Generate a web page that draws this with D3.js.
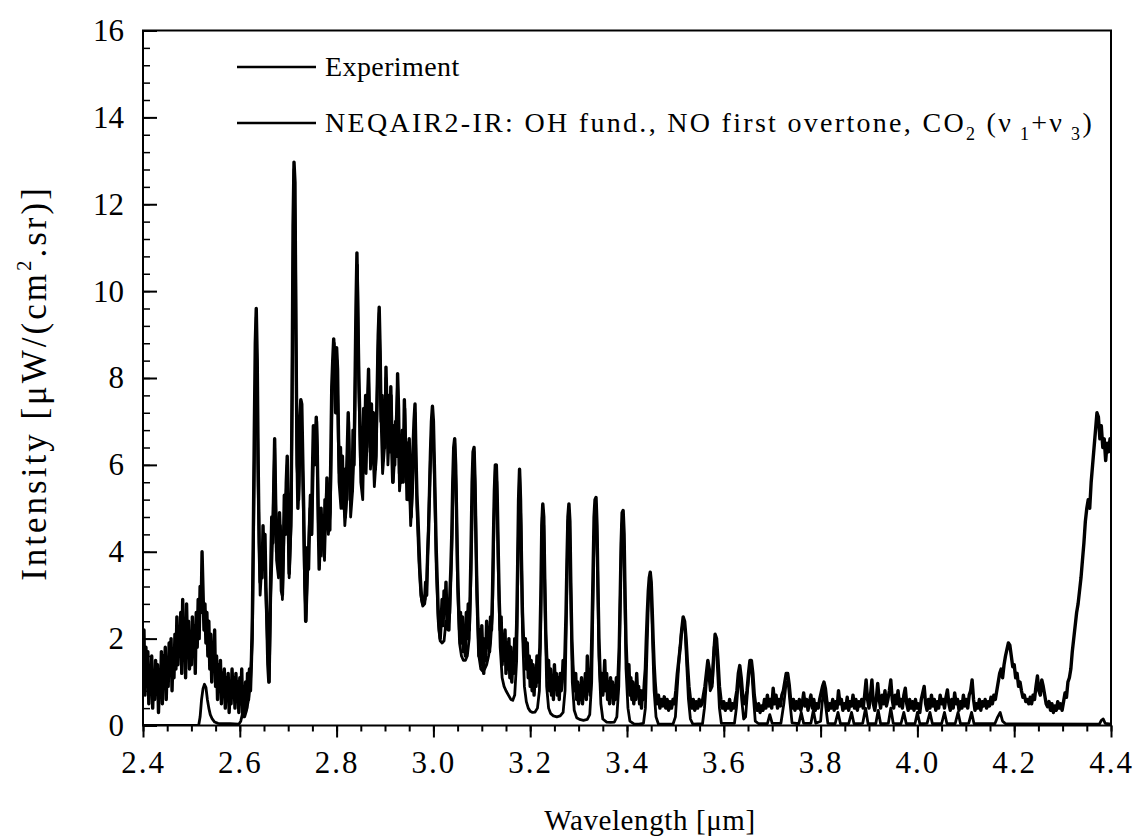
<!DOCTYPE html>
<html>
<head>
<meta charset="utf-8">
<script src="https://cdn.jsdelivr.net/npm/d3@7"></script>
<style>
  body { margin: 0; background: #fff; }
  text { font-family: "Liberation Serif", "Times New Roman", serif; fill: #000; }
</style>
</head>
<body>
<script>
var w = 1137;
var h = 838;

// plot box in pixels
var box = { left: 143, right: 1111, top: 30.5, bottom: 725.5 };

var xTicks = [2.4, 2.6, 2.8, 3.0, 3.2, 3.4, 3.6, 3.8, 4.0, 4.2, 4.4];
var yTicks = [0, 2, 4, 6, 8, 10, 12, 14, 16];

var legendLabels = ["Experiment", "NEQAIR2-IR"];

// measured spectrum [wavelength um, intensity]
var experiment = [
  [2.400,0.9],[2.402,2.2],[2.404,0.7],[2.406,1.8],[2.408,1.1],[2.410,1.7],[2.412,0.5],[2.414,1.3],[2.416,0.8],[2.418,1.6],
  [2.420,0.4],[2.422,1.2],[2.424,0.6],[2.426,1.5],[2.428,0.9],[2.430,1.4],[2.432,0.3],[2.434,1.1],[2.436,0.7],[2.438,1.7],
  [2.440,0.5],[2.442,1.6],[2.444,1.0],[2.446,1.8],[2.448,0.6],[2.450,1.5],[2.452,0.9],[2.454,1.9],[2.456,1.2],[2.458,2.0],
  [2.460,0.8],[2.462,1.7],[2.464,1.1],[2.466,2.1],[2.468,1.3],[2.470,2.5],[2.472,1.4],[2.474,2.2],[2.476,1.6],[2.478,2.6],
  [2.480,1.2],[2.482,2.9],[2.484,1.5],[2.486,2.3],[2.488,1.1],[2.490,2.8],[2.492,1.7],[2.494,2.4],[2.496,1.3],[2.498,2.0],
  [2.500,1.4],[2.502,2.5],[2.504,1.6],[2.506,2.3],[2.508,1.2],[2.510,2.6],[2.512,1.8],[2.514,2.9],[2.516,2.0],[2.518,3.2],
  [2.520,2.6],[2.522,4.0],[2.524,3.1],[2.526,2.2],[2.528,2.8],[2.530,1.9],[2.532,2.6],[2.534,1.6],[2.536,2.4],[2.538,1.3],
  [2.540,2.1],[2.542,1.0],[2.544,1.9],[2.546,1.4],[2.548,2.2],[2.550,0.9],[2.552,1.6],[2.554,0.6],[2.556,1.4],[2.558,0.8],
  [2.560,1.5],[2.562,0.5],[2.564,1.2],[2.566,0.7],[2.568,1.3],[2.570,0.4],[2.572,1.1],[2.574,0.6],[2.576,1.2],[2.578,0.3],
  [2.580,1.0],[2.582,0.5],[2.584,1.3],[2.586,0.7],[2.588,1.1],[2.590,0.4],[2.592,1.2],[2.594,0.6],[2.596,1.0],[2.598,0.3],
  [2.600,1.1],[2.602,0.5],[2.604,1.3],[2.606,0.2],[2.608,0.9],[2.610,0.3],[2.612,1.0],[2.614,0.4],[2.616,1.2],[2.618,0.6],
  [2.620,1.3],[2.622,0.8],[2.624,1.5],[2.626,2.5],[2.628,4.5],[2.630,6.8],[2.632,8.8],[2.634,9.6],[2.636,8.4],[2.638,6.0],
  [2.640,4.2],[2.642,3.3],[2.644,4.0],[2.646,3.4],[2.648,4.6],[2.650,3.6],[2.652,4.4],[2.654,3.2],[2.656,2.4],[2.658,1.4],
  [2.660,1.0],[2.662,2.2],[2.664,3.6],[2.666,4.8],[2.668,4.2],[2.670,5.4],[2.672,6.6],[2.674,5.2],[2.676,4.0],[2.678,4.7],
  [2.680,3.6],[2.682,4.9],[2.684,4.2],[2.686,3.1],[2.688,3.0],[2.690,4.0],[2.692,5.3],[2.694,4.4],[2.696,5.6],[2.698,6.2],
  [2.700,4.8],[2.702,3.5],[2.704,4.2],[2.706,5.0],[2.708,7.5],[2.710,11.5],[2.712,12.97],[2.714,12.5],[2.716,9.0],[2.718,6.5],
  [2.720,5.0],[2.722,5.6],[2.724,7.0],[2.726,7.5],[2.728,7.4],[2.730,6.2],[2.732,5.0],[2.734,3.6],[2.736,2.4],[2.738,3.2],
  [2.740,4.1],[2.742,3.6],[2.744,4.6],[2.746,5.3],[2.748,4.4],[2.750,5.8],[2.752,6.9],[2.754,6.0],[2.756,6.5],[2.758,7.1],
  [2.760,6.4],[2.762,4.8],[2.764,3.6],[2.766,4.4],[2.768,5.0],[2.770,4.2],[2.772,4.7],[2.774,3.9],[2.776,5.2],[2.778,4.6],
  [2.780,5.7],[2.782,4.7],[2.784,5.3],[2.786,4.5],[2.788,6.2],[2.790,7.8],[2.792,8.4],[2.794,8.9],[2.796,8.3],[2.798,7.2],
  [2.800,8.7],[2.802,8.2],[2.804,6.6],[2.806,5.8],[2.808,6.4],[2.810,5.4],[2.812,6.2],[2.814,5.0],[2.816,5.9],[2.818,4.8],
  [2.820,5.6],[2.822,6.3],[2.824,7.2],[2.826,6.0],[2.828,5.2],[2.830,6.1],[2.832,5.4],[2.834,6.8],[2.836,6.0],[2.838,7.8],
  [2.840,9.6],[2.842,10.88],[2.844,9.4],[2.846,8.0],[2.848,7.1],[2.850,6.0],[2.852,6.7],[2.854,5.8],[2.856,7.3],[2.858,6.4],
  [2.860,7.6],[2.862,6.3],[2.864,7.4],[2.866,8.2],[2.868,7.0],[2.870,6.4],[2.872,7.4],[2.874,6.1],[2.876,7.2],[2.878,6.0],
  [2.880,5.9],[2.882,6.8],[2.884,7.8],[2.886,9.0],[2.888,9.63],[2.890,8.6],[2.892,7.0],[2.894,7.6],[2.896,6.1],[2.898,7.0],
  [2.900,6.4],[2.902,8.25],[2.904,7.3],[2.906,6.6],[2.908,7.6],[2.910,6.3],[2.912,7.8],[2.914,6.4],[2.916,5.6],[2.918,6.9],
  [2.920,6.0],[2.922,7.0],[2.924,6.2],[2.926,8.1],[2.928,7.3],[2.930,5.8],[2.932,6.6],[2.934,5.6],[2.936,6.8],[2.938,6.0],
  [2.940,7.5],[2.942,6.6],[2.944,5.6],[2.946,6.5],[2.948,5.2],[2.950,6.6],[2.952,5.4],[2.954,4.8],[2.956,5.6],[2.958,6.4],
  [2.960,7.0],[2.962,7.4],[2.964,6.2],[2.966,5.3],[2.968,4.8],[2.970,4.2],[2.972,3.6],[2.974,3.2],[2.976,2.9],[2.978,2.8],
  [2.980,2.9],[2.982,2.9],[2.984,3.3],[2.986,3.0],[2.988,3.9],[2.990,4.5],[2.992,5.4],[2.994,6.3],[2.996,7.0],[2.998,7.35],
  [3.000,7.0],[3.002,6.0],[3.004,5.0],[3.006,4.0],[3.008,3.3],[3.010,2.6],[3.012,2.2],[3.014,2.0],[3.016,2.4],[3.018,2.9],
  [3.020,2.3],[3.022,3.1],[3.024,2.6],[3.026,3.3],[3.028,2.4],[3.030,2.9],[3.032,2.2],[3.034,3.0],[3.036,3.6],[3.038,4.4],
  [3.040,5.6],[3.042,6.4],[3.044,6.6],[3.046,6.0],[3.048,4.8],[3.050,3.6],[3.052,2.8],[3.054,2.2],[3.056,2.6],[3.058,1.9],
  [3.060,2.5],[3.062,1.7],[3.064,2.3],[3.066,1.6],[3.068,2.6],[3.070,2.0],[3.072,2.8],[3.074,2.2],[3.076,3.0],[3.078,4.2],
  [3.080,5.6],[3.082,6.3],[3.084,6.4],[3.086,5.6],[3.088,4.2],[3.090,3.1],[3.092,2.3],[3.094,1.6],[3.096,2.2],[3.098,1.4],
  [3.100,2.3],[3.102,1.6],[3.104,1.2],[3.106,2.0],[3.108,1.5],[3.110,2.4],[3.112,1.8],[3.114,2.2],[3.116,1.7],[3.118,2.5],
  [3.120,2.2],[3.122,3.0],[3.124,4.3],[3.126,5.4],[3.128,6.0],[3.130,6.0],[3.132,5.2],[3.134,4.0],[3.136,2.9],[3.138,2.2],
  [3.140,2.5],[3.142,1.4],[3.144,2.1],[3.146,1.5],[3.148,2.2],[3.150,1.2],[3.152,1.9],[3.154,1.3],[3.156,2.0],[3.158,1.1],
  [3.160,1.8],[3.162,1.0],[3.164,1.6],[3.166,1.2],[3.168,2.0],[3.170,1.5],[3.172,2.3],[3.174,3.6],[3.176,5.2],[3.178,5.9],
  [3.180,5.2],[3.182,3.8],[3.184,2.6],[3.186,2.0],[3.188,1.6],[3.190,2.0],[3.192,1.3],[3.194,1.9],[3.196,1.1],[3.198,1.6],
  [3.200,0.9],[3.202,1.5],[3.204,0.8],[3.206,1.4],[3.208,0.7],[3.210,1.3],[3.212,0.9],[3.214,1.6],[3.216,1.0],[3.218,1.4],
  [3.220,1.8],[3.222,3.0],[3.224,4.6],[3.226,5.1],[3.228,4.8],[3.230,3.4],[3.232,2.2],[3.234,1.6],[3.236,1.1],[3.238,1.5],
  [3.240,0.8],[3.242,1.3],[3.244,0.7],[3.246,1.1],[3.248,0.6],[3.250,1.4],[3.252,0.9],[3.254,1.2],[3.256,0.7],[3.258,1.1],
  [3.260,0.6],[3.262,1.2],[3.264,0.8],[3.266,1.0],[3.268,1.5],[3.270,1.1],[3.272,1.7],[3.274,2.6],[3.276,3.8],[3.278,4.8],
  [3.280,5.1],[3.282,4.7],[3.284,3.2],[3.286,2.0],[3.288,1.4],[3.290,1.0],[3.292,0.8],[3.294,1.2],[3.296,0.6],[3.298,1.0],
  [3.300,0.5],[3.302,0.9],[3.304,0.6],[3.306,1.1],[3.308,0.5],[3.310,0.9],[3.312,0.7],[3.314,1.2],[3.316,0.6],[3.318,1.6],
  [3.320,0.8],[3.322,1.1],[3.324,0.7],[3.326,1.4],[3.328,2.4],[3.330,3.6],[3.332,4.8],[3.334,5.2],[3.336,5.25],[3.338,4.6],
  [3.340,3.2],[3.342,2.0],[3.344,1.3],[3.346,0.9],[3.348,1.2],[3.350,0.7],[3.352,1.0],[3.354,1.5],[3.356,0.8],[3.358,1.2],
  [3.360,0.6],[3.362,1.0],[3.364,0.5],[3.366,1.1],[3.368,0.7],[3.370,1.0],[3.372,0.5],[3.374,0.9],[3.376,0.6],[3.378,1.1],
  [3.380,0.7],[3.382,1.2],[3.384,1.8],[3.386,3.0],[3.388,4.2],[3.390,4.9],[3.392,4.95],[3.394,4.4],[3.396,3.0],[3.398,1.9],
  [3.400,1.3],[3.402,1.0],[3.404,1.4],[3.406,0.7],[3.408,1.1],[3.410,0.6],[3.412,1.0],[3.414,0.5],[3.416,0.9],[3.418,0.6],
  [3.420,1.2],[3.422,0.7],[3.424,0.9],[3.426,0.5],[3.428,0.8],[3.430,0.4],[3.432,0.8],[3.434,0.6],[3.436,1.0],[3.438,1.3],
  [3.440,2.0],[3.442,2.6],[3.444,3.1],[3.446,3.4],[3.448,3.53],[3.450,3.3],[3.452,2.7],[3.454,2.0],[3.456,1.4],[3.458,1.0],
  [3.460,0.7],[3.462,0.5],[3.465,0.7],[3.468,0.4],[3.471,0.6],[3.474,0.45],[3.477,0.66],[3.480,0.4],[3.483,0.6],[3.486,0.35],
  [3.489,0.55],[3.492,0.4],[3.495,0.6],[3.498,0.5],[3.501,0.8],[3.504,1.2],[3.507,1.5],[3.510,1.8],[3.513,2.2],[3.516,2.5],
  [3.519,2.4],[3.522,2.0],[3.525,1.4],[3.528,0.9],[3.531,0.6],[3.534,0.4],[3.537,0.6],[3.540,0.35],[3.543,0.55],[3.546,0.4],
  [3.549,0.6],[3.552,0.45],[3.555,0.5],[3.558,0.7],[3.561,0.9],[3.564,1.2],[3.567,1.5],[3.570,1.3],[3.573,0.9],[3.576,1.0],
  [3.579,1.6],[3.582,2.1],[3.585,2.0],[3.588,1.5],[3.591,0.9],[3.594,0.6],[3.597,0.4],[3.600,0.55],[3.603,0.35],[3.606,0.5],
  [3.609,0.4],[3.612,0.6],[3.615,0.35],[3.618,0.5],[3.621,0.4],[3.624,0.6],[3.627,0.8],[3.630,1.2],[3.633,1.38],[3.636,1.1],
  [3.639,0.7],[3.642,0.5],[3.645,0.6],[3.648,0.8],[3.651,1.2],[3.654,1.5],[3.657,1.5],[3.660,1.2],[3.663,0.7],[3.666,0.45],
  [3.669,0.35],[3.672,0.5],[3.675,0.3],[3.678,0.45],[3.681,0.35],[3.684,0.6],[3.687,0.4],[3.690,0.7],[3.693,0.45],[3.696,0.6],
  [3.699,0.4],[3.702,0.86],[3.705,0.5],[3.708,0.7],[3.711,0.4],[3.714,0.6],[3.717,0.45],[3.720,0.7],[3.723,0.8],[3.726,1.0],
  [3.729,1.2],[3.732,1.2],[3.735,0.95],[3.738,0.6],[3.741,0.4],[3.744,0.6],[3.747,0.35],[3.750,0.55],[3.753,0.4],[3.756,0.6],
  [3.759,0.35],[3.762,0.5],[3.765,0.75],[3.768,0.45],[3.771,0.6],[3.774,0.35],[3.777,0.55],[3.780,0.7],[3.783,0.4],[3.786,0.6],
  [3.789,0.35],[3.792,0.5],[3.795,0.4],[3.798,0.6],[3.801,0.75],[3.804,0.9],[3.807,1.0],[3.810,0.85],[3.813,0.55],[3.816,0.35],
  [3.819,0.5],[3.822,0.4],[3.825,0.6],[3.828,0.35],[3.831,0.55],[3.834,0.4],[3.837,0.8],[3.840,0.5],[3.843,0.6],[3.846,0.35],
  [3.849,0.5],[3.852,0.4],[3.855,0.65],[3.858,0.35],[3.861,0.55],[3.864,0.45],[3.867,0.7],[3.870,0.4],[3.873,0.6],[3.876,0.35],
  [3.879,0.55],[3.882,0.45],[3.885,0.6],[3.888,0.4],[3.891,0.7],[3.894,1.05],[3.897,0.6],[3.900,0.4],[3.903,0.7],[3.906,1.05],
  [3.909,0.5],[3.912,0.35],[3.915,0.6],[3.918,0.97],[3.921,0.6],[3.924,0.4],[3.927,0.7],[3.930,0.5],[3.933,0.8],[3.936,0.45],
  [3.939,0.6],[3.942,0.8],[3.945,1.05],[3.948,0.6],[3.951,0.4],[3.954,0.7],[3.957,0.5],[3.960,0.8],[3.963,0.45],[3.966,0.6],
  [3.969,0.4],[3.972,0.7],[3.975,0.86],[3.978,0.5],[3.981,0.35],[3.984,0.6],[3.987,0.4],[3.990,0.55],[3.993,0.35],[3.996,0.6],
  [3.999,0.4],[4.002,0.5],[4.005,0.3],[4.008,0.6],[4.011,0.75],[4.014,0.9],[4.017,0.5],[4.020,0.35],[4.023,0.6],[4.026,0.4],
  [4.029,0.7],[4.032,0.45],[4.035,0.6],[4.038,0.35],[4.041,0.55],[4.044,0.4],[4.047,0.7],[4.050,0.5],[4.053,0.6],[4.056,0.4],
  [4.059,0.65],[4.062,0.82],[4.065,0.5],[4.068,0.35],[4.071,0.6],[4.074,0.4],[4.077,0.75],[4.080,0.5],[4.083,0.6],[4.086,0.35],
  [4.089,0.55],[4.092,0.4],[4.095,0.7],[4.098,0.45],[4.101,0.6],[4.104,0.4],[4.107,0.7],[4.110,0.8],[4.113,1.05],[4.116,0.6],
  [4.119,0.35],[4.122,0.5],[4.125,0.4],[4.128,0.6],[4.131,0.35],[4.134,0.55],[4.137,0.45],[4.140,0.6],[4.143,0.4],[4.146,0.55],
  [4.149,0.45],[4.152,0.65],[4.155,0.5],[4.158,0.7],[4.161,0.6],[4.164,0.8],[4.167,1.0],[4.170,1.2],[4.173,1.3],[4.176,1.1],
  [4.179,1.4],[4.182,1.6],[4.185,1.75],[4.188,1.9],[4.191,1.85],[4.194,1.6],[4.197,1.35],[4.200,1.4],[4.203,1.1],[4.206,1.2],
  [4.209,0.9],[4.212,1.0],[4.215,0.8],[4.218,0.65],[4.221,0.7],[4.224,0.55],[4.227,0.6],[4.230,0.5],[4.233,0.65],[4.236,0.5],
  [4.239,0.7],[4.242,0.6],[4.245,0.9],[4.248,1.14],[4.251,0.8],[4.254,0.7],[4.257,1.05],[4.260,0.9],[4.263,0.7],[4.266,0.5],
  [4.269,0.43],[4.272,0.55],[4.275,0.35],[4.278,0.5],[4.281,0.3],[4.284,0.45],[4.287,0.35],[4.290,0.55],[4.293,0.4],[4.296,0.5],
  [4.299,0.35],[4.302,0.55],[4.305,0.75],[4.308,0.65],[4.311,1.0],[4.314,1.1],[4.317,1.3],[4.320,1.7],[4.323,2.0],[4.326,2.3],
  [4.329,2.6],[4.332,2.8],[4.335,3.1],[4.338,3.4],[4.341,3.8],[4.344,4.2],[4.347,4.7],[4.350,5.0],[4.353,5.2],[4.356,5.0],
  [4.359,5.6],[4.362,6.0],[4.365,6.4],[4.368,6.8],[4.371,7.2],[4.374,7.1],[4.377,6.6],[4.380,6.9],[4.383,6.4],[4.386,6.6],
  [4.389,6.1],[4.392,6.5],[4.395,6.3],[4.398,6.6],[4.400,6.4]
];

// NEQAIR2-IR simulation [wavelength um, intensity]
var neqair = [
  [2.400,0],[2.515,0],[2.518,0.2],[2.521,0.6],[2.524,0.85],[2.527,0.95],[2.530,0.88],[2.533,0.6],[2.536,0.4],[2.539,0.25],
  [2.543,0.15],[2.548,0.08],[2.555,0.05],[2.563,0.04],[2.580,0.04],[2.598,0.03],[2.602,0.1],[2.606,0.3],[2.610,0.2],[2.614,0.35],
  [2.618,0.6],[2.622,1.0],[2.626,2.0],[2.630,6.0],[2.634,9.4],[2.638,5.5],[2.642,3.0],[2.646,3.8],[2.650,4.2],[2.654,3.0],
  [2.658,1.6],[2.661,1.0],[2.664,3.0],[2.668,4.4],[2.672,6.4],[2.676,3.8],[2.680,3.4],[2.684,4.6],[2.688,2.9],[2.692,4.8],
  [2.696,5.4],[2.698,6.0],[2.702,3.4],[2.706,4.6],[2.709,9.0],[2.712,12.8],[2.715,11.0],[2.718,6.0],[2.722,5.2],[2.726,7.3],
  [2.730,5.8],[2.734,3.2],[2.737,2.4],[2.741,3.8],[2.745,5.0],[2.749,4.4],[2.753,6.7],[2.757,6.2],[2.759,7.0],[2.763,4.2],
  [2.767,3.9],[2.771,4.6],[2.775,3.8],[2.779,5.4],[2.783,4.4],[2.787,4.9],[2.791,7.6],[2.795,8.8],[2.799,7.2],[2.801,8.4],
  [2.805,5.6],[2.809,5.0],[2.813,5.8],[2.817,4.6],[2.821,5.2],[2.825,7.0],[2.829,4.8],[2.833,5.4],[2.837,6.6],[2.840,9.0],
  [2.843,10.6],[2.846,7.8],[2.850,5.6],[2.854,5.2],[2.857,7.0],[2.861,5.8],[2.866,8.0],[2.870,5.9],[2.874,6.8],[2.878,5.5],
  [2.882,6.2],[2.885,8.4],[2.888,9.5],[2.891,7.4],[2.895,5.8],[2.899,6.4],[2.902,8.0],[2.906,6.0],[2.910,7.0],[2.913,7.6],
  [2.917,5.6],[2.921,6.4],[2.926,7.9],[2.930,5.4],[2.934,6.0],[2.938,5.6],[2.941,7.3],[2.945,5.2],[2.949,6.2],[2.953,4.6],
  [2.957,5.4],[2.962,7.2],[2.966,5.0],[2.970,3.8],[2.974,3.0],[2.978,2.75],[2.982,2.8],[2.986,3.2],[2.990,4.6],[2.994,6.2],
  [2.998,7.2],[3.002,5.8],[3.006,3.6],[3.010,2.4],[3.014,1.95],[3.018,1.9],[3.022,1.95],[3.026,2.4],[3.030,2.2],[3.034,2.6],
  [3.038,4.0],[3.042,6.2],[3.044,6.5],[3.047,5.4],[3.050,3.2],[3.054,1.9],[3.058,1.6],[3.062,1.5],[3.066,1.5],[3.070,1.6],
  [3.074,2.0],[3.078,3.6],[3.082,6.0],[3.084,6.3],[3.087,5.0],[3.090,3.0],[3.094,1.6],[3.098,1.3],[3.102,1.25],[3.106,1.3],
  [3.110,1.4],[3.114,1.6],[3.118,1.9],[3.122,2.6],[3.125,4.6],[3.128,5.9],[3.131,5.6],[3.134,3.6],[3.138,1.8],[3.142,1.1],
  [3.146,0.9],[3.150,0.8],[3.155,0.7],[3.160,0.6],[3.164,0.58],[3.168,0.7],[3.172,1.5],[3.175,4.0],[3.178,5.8],[3.181,4.6],
  [3.184,2.2],[3.188,0.9],[3.192,0.55],[3.196,0.4],[3.200,0.33],[3.205,0.3],[3.210,0.31],[3.215,0.4],[3.219,0.8],[3.222,2.4],
  [3.225,4.8],[3.228,4.6],[3.231,2.6],[3.234,0.9],[3.238,0.4],[3.242,0.28],[3.248,0.22],[3.255,0.2],[3.262,0.22],[3.268,0.3],
  [3.272,0.8],[3.275,2.6],[3.278,4.7],[3.281,4.9],[3.284,3.0],[3.287,1.0],[3.291,0.35],[3.296,0.18],[3.302,0.14],[3.310,0.12],
  [3.318,0.14],[3.323,0.25],[3.327,1.0],[3.330,3.0],[3.333,4.8],[3.336,5.1],[3.339,3.8],[3.342,1.6],[3.346,0.5],[3.350,0.15],
  [3.358,0.08],[3.366,0.07],[3.374,0.08],[3.379,0.2],[3.383,0.9],[3.386,2.8],[3.389,4.6],[3.392,4.8],[3.395,3.4],[3.398,1.3],
  [3.402,0.4],[3.406,0.1],[3.415,0.03],[3.425,0.03],[3.434,0.05],[3.438,0.4],[3.441,1.6],[3.444,2.8],[3.447,3.4],[3.450,3.1],
  [3.453,1.9],[3.456,0.8],[3.460,0.2],[3.465,0.03],[3.495,0.03],[3.500,0.2],[3.504,0.9],[3.508,1.6],[3.512,2.1],[3.516,2.4],
  [3.520,2.2],[3.523,1.5],[3.527,0.6],[3.531,0.15],[3.536,0.03],[3.556,0.04],[3.560,0.4],[3.564,1.0],[3.568,1.3],[3.572,0.8],
  [3.576,0.9],[3.580,1.8],[3.583,2.0],[3.587,1.3],[3.591,0.4],[3.595,0.05],[3.622,0.05],[3.626,0.4],[3.630,1.0],[3.633,1.2],
  [3.637,0.6],[3.641,0.15],[3.645,0.2],[3.649,0.8],[3.653,1.3],[3.657,1.4],[3.661,0.7],[3.665,0.1],[3.672,0.04],[3.690,0.04],
  [3.695,0.25],[3.700,0.05],[3.718,0.05],[3.724,0.5],[3.729,1.0],[3.733,1.0],[3.737,0.5],[3.741,0.06],[3.755,0.04],[3.760,0.3],
  [3.765,0.05],[3.780,0.05],[3.785,0.35],[3.790,0.05],[3.800,0.1],[3.804,0.6],[3.807,0.85],[3.811,0.4],[3.815,0.05],[3.830,0.04],
  [3.836,0.3],[3.841,0.04],[3.858,0.04],[3.864,0.3],[3.869,0.04],[3.887,0.05],[3.893,0.4],[3.898,0.04],[3.914,0.04],[3.919,0.35],
  [3.924,0.04],[3.940,0.05],[3.945,0.4],[3.950,0.05],[3.966,0.04],[3.972,0.3],[3.977,0.04],[3.995,0.04],[4.000,0.3],[4.005,0.04],
  [4.020,0.05],[4.026,0.3],[4.031,0.04],[4.050,0.04],[4.056,0.3],[4.061,0.04],[4.078,0.04],[4.084,0.3],[4.089,0.04],[4.106,0.05],
  [4.112,0.3],[4.117,0.04],[4.160,0.04],[4.166,0.2],[4.171,0.3],[4.176,0.1],[4.182,0.04],[4.376,0.03],[4.380,0.12],[4.384,0.15],
  [4.388,0.05],[4.400,0.03]
];

var x = d3.scaleLinear()
  .domain([2.4, 4.4])
  .range([box.left, box.right]);

var y = d3.scaleLinear()
  .domain([0, 16])
  .range([box.bottom, box.top]);

var svg = d3.select("body").append("svg")
  .attr("width", w)
  .attr("height", h);

svg.append("clipPath").attr("id", "plotclip")
  .append("rect")
  .attr("x", box.left).attr("y", box.top - 2)
  .attr("width", box.right - box.left).attr("height", box.bottom - box.top + 2);

var line = d3.line()
  .x(function (d) { return x(d[0]); })
  .y(function (d) { return y(d[1]); });

var curves = svg.append("g").attr("clip-path", "url(#plotclip)");

curves.append("path")
  .datum(neqair)
  .attr("fill", "none")
  .attr("stroke", "#000")
  .attr("stroke-width", 2.8)
  .attr("stroke-linejoin", "round")
  .attr("d", line);

curves.append("path")
  .datum(experiment)
  .attr("fill", "none")
  .attr("stroke", "#000")
  .attr("stroke-width", 3.4)
  .attr("stroke-linejoin", "round")
  .attr("d", line);

// frame
svg.append("rect")
  .attr("x", box.left).attr("y", box.top)
  .attr("width", box.right - box.left).attr("height", box.bottom - box.top)
  .attr("fill", "none").attr("stroke", "#000").attr("stroke-width", 2);

// y axis, ticks pointing inside
var yMinor = d3.range(0, 16.01, 0.4);
svg.append("g")
  .attr("transform", "translate(" + box.left + ",0)")
  .call(d3.axisLeft(y).tickValues(yMinor).tickSize(-7).tickFormat(""))
  .call(function (g) { g.select(".domain").remove(); g.selectAll("line").attr("stroke-width", 1.5); });

var yAxis = svg.append("g")
  .attr("transform", "translate(" + box.left + ",0)")
  .call(d3.axisLeft(y).tickValues(yTicks).tickSize(-14).tickPadding(19).tickFormat(d3.format("d")));
yAxis.select(".domain").remove();
yAxis.selectAll("line").attr("stroke-width", 2);
yAxis.selectAll("text").style("font-size", "31px").style("font-family", "Liberation Serif");

// x axis, ticks pointing outside
var xMinor = d3.range(2.4, 4.401, 0.05);
svg.append("g")
  .attr("transform", "translate(0," + box.bottom + ")")
  .call(d3.axisBottom(x).tickValues(xMinor).tickSize(6).tickFormat(""))
  .call(function (g) { g.select(".domain").remove(); g.selectAll("line").attr("stroke-width", 2); });

var xAxis = svg.append("g")
  .attr("transform", "translate(0," + box.bottom + ")")
  .call(d3.axisBottom(x).tickValues(xTicks).tickSize(12).tickPadding(13).tickFormat(d3.format(".1f")));
xAxis.select(".domain").remove();
xAxis.selectAll("line").attr("stroke-width", 2);
xAxis.selectAll("text").style("font-size", "31px").style("font-family", "Liberation Serif")
  .style("letter-spacing", "2px");

// axis titles
svg.append("text")
  .attr("x", 650)
  .attr("y", 830)
  .attr("text-anchor", "middle")
  .style("font-size", "29px")
  .style("letter-spacing", "0.6px")
  .text("Wavelength [\u03bcm]");

var yt = svg.append("text")
  .attr("transform", "translate(46,383) rotate(-90)")
  .attr("text-anchor", "middle")
  .style("font-size", "35px")
  .style("letter-spacing", "3px");
yt.append("tspan").text("Intensity [\u03bcW/(cm");
yt.append("tspan").attr("dy", -15).style("font-size", "21px").text("2");
yt.append("tspan").attr("dy", 15).text(".sr)]");

// legend
var legendY = [67, 123];
svg.selectAll(".lg-line")
  .data(legendLabels)
  .enter()
  .append("line")
  .attr("x1", 237).attr("x2", 316)
  .attr("y1", function (d, i) { return legendY[i]; })
  .attr("y2", function (d, i) { return legendY[i]; })
  .attr("stroke", "#000").attr("stroke-width", 2.5);

svg.append("text")
  .attr("x", 325).attr("y", legendY[0] + 9)
  .style("font-size", "28px")
  .style("letter-spacing", "0.4px")
  .text(legendLabels[0]);

var lg2 = svg.append("text")
  .attr("x", 325).attr("y", legendY[1] + 9)
  .style("font-size", "28px")
  .style("letter-spacing", "2.3px");
lg2.append("tspan").text(legendLabels[1] + ": OH fund., NO first overtone, CO");
lg2.append("tspan").attr("dy", 8).style("font-size", "18px").text("2");
lg2.append("tspan").attr("dy", -8).text(" (\u03bd");
lg2.append("tspan").attr("dy", 8).style("font-size", "18px").text(" 1");
lg2.append("tspan").attr("dy", -8).text("+\u03bd");
lg2.append("tspan").attr("dy", 8).style("font-size", "18px").text(" 3");
lg2.append("tspan").attr("dy", -8).text(")");
</script>
</body>
</html>
